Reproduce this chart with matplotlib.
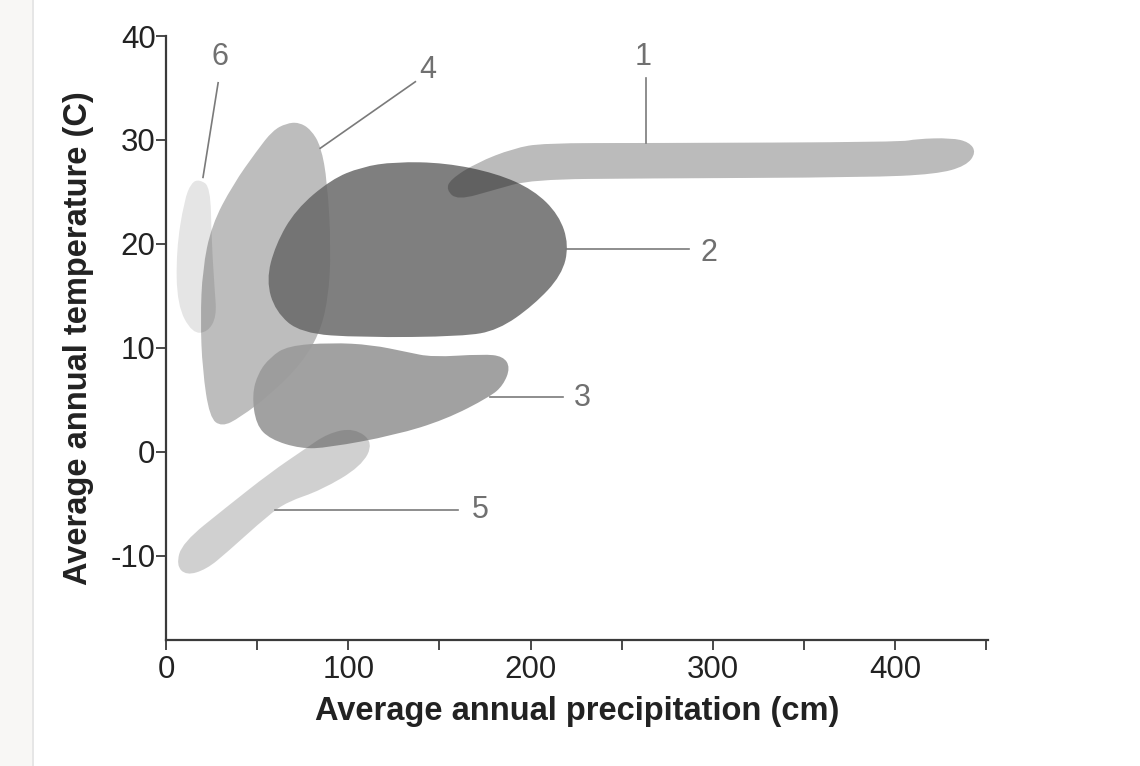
import matplotlib
matplotlib.use("Agg")
import matplotlib.pyplot as plt
from matplotlib.path import Path
from matplotlib.patches import PathPatch, Rectangle
from matplotlib.lines import Line2D

plt.rcParams['font.family'] = ['Liberation Sans', 'DejaVu Sans']
plt.rcParams['axes.unicode_minus'] = False

# biome outlines: precipitation (cm), temperature (C)
biome1_x = [153.8, 159.9, 180.2, 200.5, 262.1, 384.6, 422.5, 439.0, 444.5, 440.7,
            430.8, 411.5, 403.3, 262.1, 207.1, 190.7, 170.3, 156.0]
biome1_y = [25.2, 24.2, 25.2, 26.2, 26.3, 26.4, 26.7, 27.5, 28.8, 29.8,
            30.2, 30.1, 29.8, 29.7, 29.7, 29.2, 27.8, 26.2]

biome2_x = [125.6, 153.3, 181.1, 201.7, 215.6, 221.1, 217.2, 201.7, 182.2, 162.8,
            107.2, 73.9, 60.0, 55.0, 60.0, 71.1, 90.6, 107.2]
biome2_y = [27.9, 27.8, 26.8, 25.2, 22.8, 19.9, 17.0, 14.1, 11.7, 11.1,
            11.0, 11.4, 13.5, 16.5, 19.9, 23.3, 26.2, 27.4]

biome3_x = [66.7, 90.6, 112.8, 132.2, 146.1, 173.9, 185.0, 188.9, 185.0, 177.8,
            153.3, 125.6, 88.9, 73.9, 57.2, 49.4, 47.2, 50.6, 57.2]
biome3_y = [10.2, 10.5, 10.3, 9.6, 9.1, 9.4, 9.2, 8.1, 6.4, 5.3,
            3.1, 1.6, 0.4, 0.3, 1.2, 2.6, 5.5, 7.6, 9.1]

biome4_x = [66.0, 73.0, 79.5, 85.0, 88.5, 90.6, 88.9, 83.9, 73.9, 57.2, 40.6,
            30.6, 23.9, 20.0, 18.9, 20.0, 25.0, 36.7, 50.0, 58.5]
biome4_y = [31.6, 31.7, 31.0, 29.4, 26.0, 19.4, 14.6, 11.25, 8.4, 5.5, 3.3,
            2.4, 3.3, 7.9, 12.7, 17.5, 21.8, 25.7, 29.0, 30.9]

biome5_x = [103.3, 113.9, 107.2, 85.0, 66.7, 56.1, 33.3, 22.2, 11.1, 5.6,
            8.9, 33.3, 57.2, 75.6, 88.9]
biome5_y = [2.3, 0.9, -1.4, -3.7, -4.8, -6.1, -9.7, -11.3, -11.9, -10.9,
            -8.75, -5.3, -2.0, 0.2, 1.8]

biome6_x = [18.3, 24.4, 25.0, 26.7, 27.8, 22.8, 14.4, 6.1, 5.6, 10.0, 13.9]
biome6_y = [26.2, 25.5, 20.4, 15.6, 13.0, 11.5, 11.4, 14.1, 19.4, 24.2, 25.9]

# number labels and their leader lines
label_names = ['1', '2', '3', '4', '5', '6']
label_x = [262.0, 297.8, 228.6, 143.4, 172.5, 29.7]
label_y = [38.0, 19.1, 5.2, 36.7, -5.6, 38.0]
leader_x0 = [263.2, 219.2, 178.0, 136.8, 59.9, 28.6]
leader_y0 = [36.0, 19.5, 5.3, 35.6, -5.6, 35.5]
leader_x1 = [263.2, 286.8, 217.6, 84.6, 160.4, 20.3]
leader_y1 = [29.7, 19.5, 5.3, 29.2, -5.6, 26.4]

x_major = [0, 100, 200, 300, 400]
x_minor = [50, 150, 250, 350, 450]
y_major = [-10, 0, 10, 20, 30, 40]


def smooth_blob(xs, ys):
    """Closed smooth path: outline points act as quadratic control points."""
    pts = list(zip(xs, ys))
    n = len(pts)
    mids = [((pts[i][0] + pts[(i + 1) % n][0]) / 2, (pts[i][1] + pts[(i + 1) % n][1]) / 2)
            for i in range(n)]
    verts = [mids[-1]]
    codes = [Path.MOVETO]
    for i in range(n):
        verts += [pts[i], mids[i]]
        codes += [Path.CURVE3, Path.CURVE3]
    return Path(verts, codes)


fig = plt.figure(figsize=(11.4, 7.66), dpi=100)
fig.patches.append(Rectangle((0, 0), 32 / 1140, 1, transform=fig.transFigure,
                             facecolor='#f8f7f5', edgecolor='none', zorder=0))
fig.lines.append(Line2D([33 / 1140, 33 / 1140], [0, 1], transform=fig.transFigure,
                        color='#e2e2e2', lw=1.2))

ax = fig.add_axes([166 / 1140, 1 - 640 / 766, 822 / 1140, 604 / 766])

# (outline, facecolor, alpha, zorder)
blobs = [
    (biome4_x, biome4_y, '#bdbdbd', 1.0, 1),
    (biome6_x, biome6_y, '#000000', 0.10, 2),
    (biome2_x, biome2_y, '#656565', 0.83, 3),
    (biome3_x, biome3_y, '#9c9c9c', 0.95, 4),
    (biome5_x, biome5_y, '#595959', 0.28, 5),
    (biome1_x, biome1_y, '#1e1e1e', 0.30, 6),
]
for bx, by, fc, a, z in blobs:
    ax.add_patch(PathPatch(smooth_blob(bx, by), facecolor=fc, edgecolor='none',
                           alpha=a, zorder=z))

for i, name in enumerate(label_names):
    ax.plot([leader_x0[i], leader_x1[i]], [leader_y0[i], leader_y1[i]],
            color='#7a7a7a', lw=1.2, zorder=7)
    ax.text(label_x[i], label_y[i], name, fontsize=22, color='#707070',
            ha='center', va='center', zorder=8)

ax.set_xlim(0, 451)
ax.set_ylim(-18.1, 40)
ax.set_xticks(x_major)
ax.set_xticks(x_minor, minor=True)
ax.set_yticks(y_major)
ax.set_yticklabels([str(v) for v in y_major])

for side in ['top', 'right']:
    ax.spines[side].set_visible(False)
for side in ['left', 'bottom']:
    ax.spines[side].set_color('#3a3a3a')
    ax.spines[side].set_linewidth(1.6)

ax.tick_params(axis='both', which='both', direction='out', length=7, width=1.3,
               color='#3a3a3a', labelsize=22.5, labelcolor='#222222')
ax.tick_params(axis='y', pad=0.5)
ax.tick_params(axis='x', pad=3.5)

ax.set_xlabel('Average annual precipitation (cm)', fontsize=23.5, fontweight='bold',
              color='#222222', labelpad=8)
ax.set_ylabel('Average annual temperature (C)', fontsize=23.5, fontweight='bold',
              color='#222222', labelpad=12)

fig.savefig('out.png', dpi=100, facecolor='white')
